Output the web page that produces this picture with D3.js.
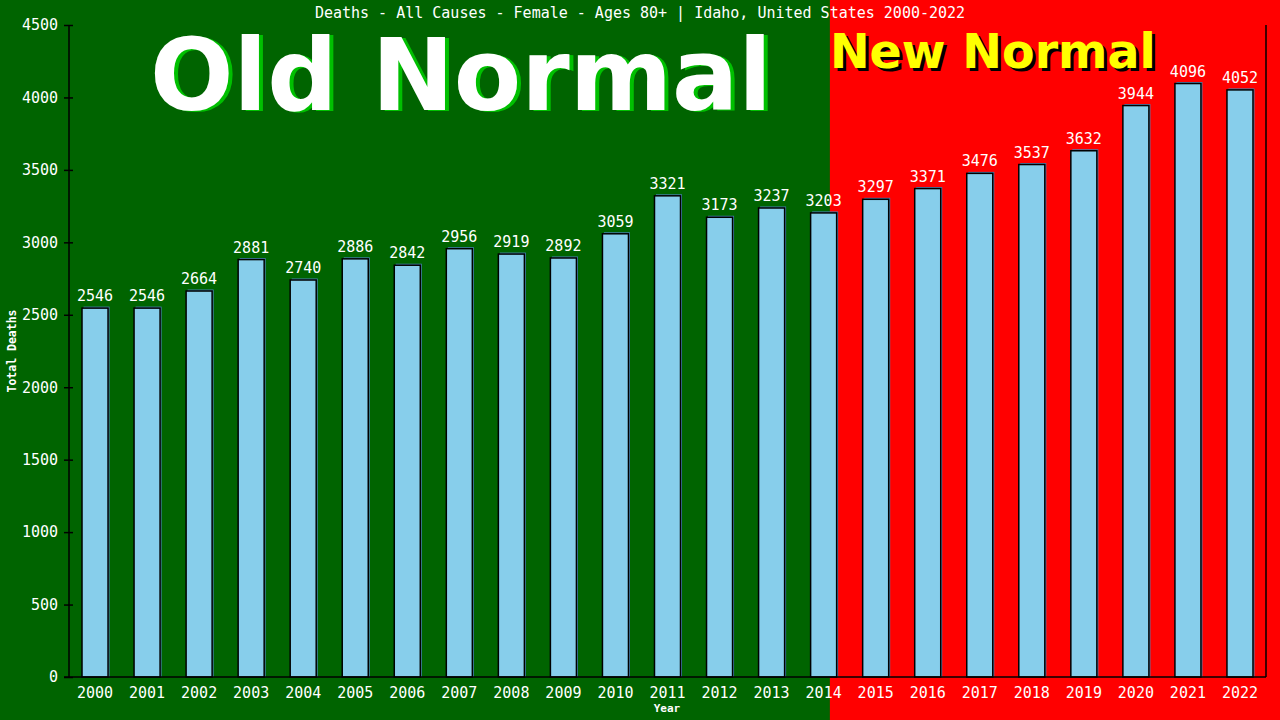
<!DOCTYPE html>
<html>
<head>
<meta charset="utf-8">
<script src="https://cdn.jsdelivr.net/npm/d3@7"></script>
<style>
    body { margin: 0; background: #006400; }
    svg { display: block; }
</style>
</head>
<body>
<div id="chart"></div>
<script>
// data
var years = ["2000", "2001", "2002", "2003", "2004", "2005", "2006", "2007", "2008", "2009", "2010", "2011",
    "2012", "2013", "2014", "2015", "2016", "2017", "2018", "2019", "2020", "2021", "2022"];
var deaths = [2546, 2546, 2664, 2881, 2740, 2886, 2842, 2956, 2919, 2892, 3059, 3321,
    3173, 3237, 3203, 3297, 3371, 3476, 3537, 3632, 3944, 4096, 4052];
var yTicks = [0, 500, 1000, 1500, 2000, 2500, 3000, 3500, 4000, 4500];
var titleText = "Deaths - All Causes - Female - Ages 80+ | Idaho, United States 2000-2022";
var lastOldYear = "2014";

window.onload = function () {
    var svgWidth = 1280;
    var svgHeight = 720;
    var left = 69, right = 1266, top = 25, bottom = 677;
    var mono = "'DejaVu Sans Mono', monospace";
    var bold = "'DejaVu Sans', Verdana, sans-serif";

    var svg = d3.select("#chart").append("svg")
        .attr("width", svgWidth)
        .attr("height", svgHeight);

    var x = d3.scaleBand()
        .domain(years)
        .range([left, right])
        .paddingInner(0)
        .paddingOuter(0);

    var y = d3.scaleLinear()
        .domain([0, 4500])
        .range([bottom, top]);

    //背景 green / red
    var split = x(lastOldYear) + x.bandwidth() * 0.62;
    svg.append("rect")
        .attr("x", 0).attr("y", 0)
        .attr("width", svgWidth).attr("height", svgHeight)
        .attr("fill", "#006400");
    svg.append("rect")
        .attr("x", split).attr("y", 0)
        .attr("width", svgWidth - split).attr("height", svgHeight)
        .attr("fill", "#ff0000");

    // big labels, shadow drawn first
    svg.append("text")
        .attr("x", 154).attr("y", 111)
        .attr("font-family", bold).attr("font-weight", "bold")
        .attr("font-size", 100).attr("fill", "#00c000")
        .attr("textLength", 622).attr("lengthAdjust", "spacingAndGlyphs")
        .text("Old Normal");
    svg.append("text")
        .attr("x", 150).attr("y", 110)
        .attr("font-family", bold).attr("font-weight", "bold")
        .attr("font-size", 100).attr("fill", "#ffffff")
        .attr("textLength", 622).attr("lengthAdjust", "spacingAndGlyphs")
        .text("Old Normal");

    svg.append("text")
        .attr("x", split + 3).attr("y", 71)
        .attr("font-family", bold).attr("font-weight", "bold")
        .attr("font-size", 48).attr("fill", "#000000")
        .attr("textLength", 326).attr("lengthAdjust", "spacingAndGlyphs")
        .text("New Normal");
    svg.append("text")
        .attr("x", split).attr("y", 68)
        .attr("font-family", bold).attr("font-weight", "bold")
        .attr("font-size", 48).attr("fill", "#ffff00")
        .attr("textLength", 326).attr("lengthAdjust", "spacingAndGlyphs")
        .text("New Normal");

    // title
    svg.append("text")
        .attr("x", 640).attr("y", 18)
        .attr("text-anchor", "middle")
        .attr("font-family", mono).attr("font-size", 15)
        .attr("fill", "#ffffff")
        .text(titleText);

    // bars: shadow first, then the face
    var barW = x.bandwidth() / 2;
    var g = svg.append("g");
    g.selectAll("rect.shadow")
        .data(deaths)
        .enter()
        .append("rect")
        .attr("class", "shadow")
        .attr("x", function (d, i) { return x(years[i]) + (x.bandwidth() - barW) / 2 + 1.5; })
        .attr("y", function (d) { return y(d) - 1.5; })
        .attr("width", barW)
        .attr("height", function (d) { return bottom - y(d) + 1.5; })
        .attr("fill", "#4682b4");

    g.selectAll("rect.bar")
        .data(deaths)
        .enter()
        .append("rect")
        .attr("class", "bar")
        .attr("x", function (d, i) { return x(years[i]) + (x.bandwidth() - barW) / 2; })
        .attr("y", function (d) { return y(d); })
        .attr("width", barW)
        .attr("height", function (d) { return bottom - y(d); })
        .attr("fill", "#87ceeb")
        .attr("stroke", "#000000")
        .attr("stroke-width", 1.5);

    g.selectAll("text.val")
        .data(deaths)
        .enter()
        .append("text")
        .attr("class", "val")
        .attr("x", function (d, i) { return x(years[i]) + x.bandwidth() / 2; })
        .attr("y", function (d) { return y(d) - 7; })
        .attr("text-anchor", "middle")
        .attr("font-family", mono).attr("font-size", 15)
        .attr("fill", "#ffffff")
        .text(function (d) { return d; });

    // y axis
    var yAxis = d3.axisLeft(y)
        .tickValues(yTicks)
        .tickSize(5)
        .tickPadding(6)
        .tickFormat(d3.format("d"));
    var yG = svg.append("g")
        .attr("transform", "translate(" + left + ",0)")
        .call(yAxis);
    yG.select(".domain").remove();
    yG.selectAll(".tick line").attr("x2", -5).attr("x1", 4).attr("stroke", "#000").attr("stroke-width", 1.5);
    yG.selectAll(".tick text")
        .attr("fill", "#ffffff")
        .attr("font-family", mono).attr("font-size", 15);

    // x axis
    var xAxis = d3.axisBottom(x).tickSize(0).tickPadding(10);
    var xG = svg.append("g")
        .attr("transform", "translate(0," + bottom + ")")
        .call(xAxis);
    xG.select(".domain").remove();
    xG.selectAll(".tick text")
        .attr("fill", "#ffffff")
        .attr("font-family", mono).attr("font-size", 15);

    // frame lines
    svg.append("line")
        .attr("x1", left).attr("x2", left).attr("y1", top).attr("y2", bottom)
        .attr("stroke", "#000").attr("stroke-width", 1.5);
    svg.append("line")
        .attr("x1", right).attr("x2", right).attr("y1", top).attr("y2", bottom)
        .attr("stroke", "#000").attr("stroke-width", 1.5);
    svg.append("line")
        .attr("x1", left - 5).attr("x2", right).attr("y1", bottom).attr("y2", bottom)
        .attr("stroke", "#000").attr("stroke-width", 1.5);

    // axis titles
    svg.append("text")
        .attr("x", 667).attr("y", 712)
        .attr("text-anchor", "middle")
        .attr("font-family", mono).attr("font-weight", "bold").attr("font-size", 11)
        .attr("fill", "#ffffff")
        .text("Year");
    svg.append("text")
        .attr("transform", "translate(16,351) rotate(-90)")
        .attr("text-anchor", "middle")
        .attr("font-family", mono).attr("font-weight", "bold").attr("font-size", 11.5)
        .attr("fill", "#ffffff")
        .text("Total Deaths");
};
</script>
</body>
</html>
